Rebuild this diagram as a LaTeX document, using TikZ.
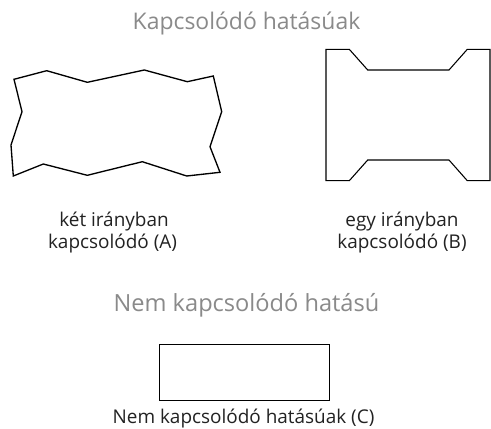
\documentclass[tikz,border=0pt]{standalone}
\usepackage{fontspec}
\setmainfont{Open Sans}
\definecolor{titlegray}{HTML}{8A8A8A}
\definecolor{labelink}{HTML}{222222}
\tikzset{
  titletext/.style={text=titlegray, inner sep=0pt, anchor=base},
  labeltext/.style={font=\fontsize{14.2pt}{17pt}\selectfont, text=labelink, inner sep=0pt, anchor=base},
  tileline/.style={draw=black, line width=1pt, line join=miter},
  thinline/.style={draw=black, line width=0.8pt, line join=miter}
}
\begin{document}
\begin{tikzpicture}[x=0.75pt, y=-0.75pt]
  \useasboundingbox (0,0) rectangle (491,428);
  \fill[white] (0,0) rectangle (491,428);

  % titles
  \node[titletext, font=\fontsize{17.2pt}{20pt}\selectfont] (t1) at (246.5,30) {Kapcsolódó hatásúak};
  \node[titletext, font=\fontsize{17.7pt}{20pt}\selectfont] (t2) at (246.5,311.7) {Nem kapcsolódó hatású};

  % shape A
  \draw[tileline] (14,79.3) -- (46.7,70.7) -- (87.3,82.3) -- (144.3,70) -- (187.3,81.7)
    -- (213.3,76) -- (221.7,111.7) -- (210,146.7) -- (220,172.3) -- (186.7,176)
    -- (142.3,161.7) -- (87.3,175.3) -- (43.3,164) -- (13.3,176) -- (11,145)
    -- (22,111.7) -- cycle;

  % shape B
  \draw[thinline] (326,49.3) -- (349.3,49.3) -- (367.7,70) -- (449,70) -- (467.3,49.3)
    -- (490,49.3) -- (490,180.7) -- (467.3,180.7) -- (449,160) -- (367.7,160)
    -- (349.3,180.7) -- (326,180.7) -- cycle;

  % shape C
  \node[thinline, minimum width=170*0.75pt, minimum height=55.7*0.75pt, inner sep=0pt] (c) at (244.3,372.2) {};

  % labels
  \node[labeltext] (a1) at (114,226.7) {két irányban};
  \node[labeltext] (a2) at (112.5,248) {kapcsolódó (A)};
  \node[labeltext] (b1) at (402,226.7) {egy irányban};
  \node[labeltext] (b2) at (402,248) {kapcsolódó (B)};
  \node[labeltext] (c1) at (243.5,423) {Nem kapcsolódó hatásúak (C)};
\end{tikzpicture}
\end{document}
